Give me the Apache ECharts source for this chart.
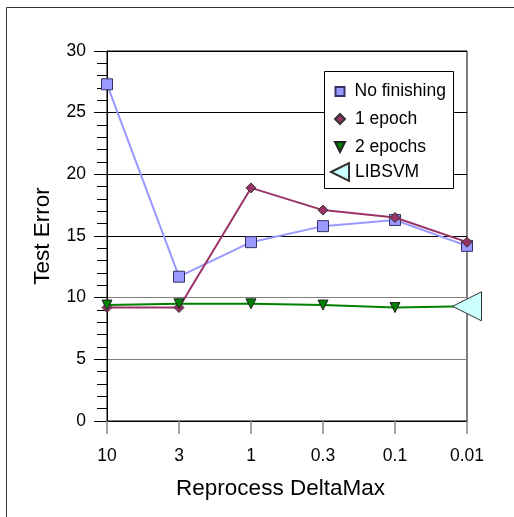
<!DOCTYPE html>
<html>
<head>
<meta charset="utf-8">
<script src="https://cdn.jsdelivr.net/npm/echarts@6/dist/echarts.min.js"></script>
<style>html,body{margin:0;padding:0;background:#fff}#c{width:514px;height:517px}</style>
</head>
<body>
<div id="c"></div>
<script>
var categories = ['10', '3', '1', '0.3', '0.1', '0.01'];
var noFinishing = [27.3, 11.7, 14.5, 15.8, 16.3, 14.2];
var oneEpoch = [9.2, 9.2, 18.9, 17.1, 16.5, 14.5];
var twoEpochs = [9.4, 9.5, 9.5, 9.4, 9.2, 9.3];
var libsvm = [null, null, null, null, null, 9.3];
var yTicks = [0, 5, 10, 15, 20, 25, 30];

var FONT = 'Liberation Sans';
var chart = echarts.init(document.getElementById('c'));

function legendFor(name, icon, left, top, w, h, pad) {
  return {
    selectedMode: false,
    orient: 'vertical',
    left: left, top: top,
    padding: 0,
    itemWidth: w, itemHeight: h,
    z: 10,
    data: [{ name: name, icon: icon }],
    textStyle: { fontFamily: FONT, fontSize: 17.5, color: '#000', padding: [0, 0, 0, pad] }
  };
}

chart.setOption({
  animation: false,
  backgroundColor: '#fff',
  graphic: [
    { type: 'rect', z: 0, shape: { x: 6.5, y: 7.5, width: 700, height: 700 }, style: { fill: 'none', stroke: '#333', lineWidth: 1 } },
    { type: 'rect', z: 9, shape: { x: 324.5, y: 71.5, width: 129, height: 117 }, style: { fill: '#fff', stroke: '#000', lineWidth: 1 } }
  ],
  legend: [
    legendFor('No finishing', 'rect', 334.5, 82.5, 9, 9, 5),
    legendFor('1 epoch', 'diamond', 334, 110, 10, 10, 5),
    legendFor('2 epochs', 'path://M0,0L10,0L5,10Z', 334, 138, 10, 10, 5),
    legendFor('LIBSVM', 'path://M0,5L10,0L10,10Z', 330, 162, 18, 18, 1)
  ],
  grid: { left: 107, right: 47, top: 51, bottom: 96, show: true, borderColor: '#000', borderWidth: 1, backgroundColor: 'transparent' },
  xAxis: {
    type: 'category',
    data: categories,
    boundaryGap: false,
    name: 'Reprocess DeltaMax',
    nameLocation: 'middle',
    nameGap: 56,
    nameTextStyle: { fontFamily: FONT, fontSize: 22.5, color: '#000', padding: [0, 13, 0, 0] },
    axisLine: { lineStyle: { color: '#000', width: 1 } },
    axisTick: { show: true, length: 13, lineStyle: { color: '#888', width: 1.5 } },
    axisLabel: { fontFamily: FONT, fontSize: 17.5, color: '#000', margin: 26 },
    splitLine: { show: false }
  },
  yAxis: {
    type: 'value',
    min: yTicks[0], max: yTicks[yTicks.length - 1], interval: 5,
    name: 'Test Error',
    nameLocation: 'middle',
    nameGap: 53,
    nameTextStyle: { fontFamily: FONT, fontSize: 22.5, color: '#000' },
    axisLine: { show: true, lineStyle: { color: '#000', width: 1 } },
    axisTick: { show: true, length: 13, lineStyle: { color: '#000', width: 1 } },
    minorTick: { show: true, splitNumber: 5, length: 10, lineStyle: { color: '#000', width: 1 } },
    axisLabel: { fontFamily: FONT, fontSize: 17.5, color: '#000', margin: 21 },
    splitLine: { show: true, lineStyle: { color: ['#000', '#808080', '#808080', '#000', '#000', '#000', '#000'], width: 1 } }
  },
  series: [
    {
      name: 'No finishing', type: 'line', data: noFinishing,
      symbol: 'rect', symbolSize: 11,
      lineStyle: { color: '#9999ff', width: 2 },
      itemStyle: { color: '#9999ff', borderColor: '#333366', borderWidth: 1 },
      z: 2
    },
    {
      name: '1 epoch', type: 'line', data: oneEpoch,
      symbol: 'diamond', symbolSize: 10,
      lineStyle: { color: '#993366', width: 2 },
      itemStyle: { color: '#993366', borderColor: '#333', borderWidth: 1 },
      z: 3
    },
    {
      name: '2 epochs', type: 'line', data: twoEpochs,
      symbol: 'triangle', symbolRotate: 180, symbolSize: 10,
      lineStyle: { color: '#008000', width: 2 },
      itemStyle: { color: '#008000', borderColor: '#222', borderWidth: 1 },
      z: 4
    },
    {
      name: 'LIBSVM', type: 'scatter', data: libsvm,
      symbol: 'triangle', symbolRotate: 90, symbolSize: 29,
      itemStyle: { color: '#ccffff', borderColor: '#333', borderWidth: 1, opacity: 1 },
      z: 5
    }
  ]
});
</script>
</body>
</html>
